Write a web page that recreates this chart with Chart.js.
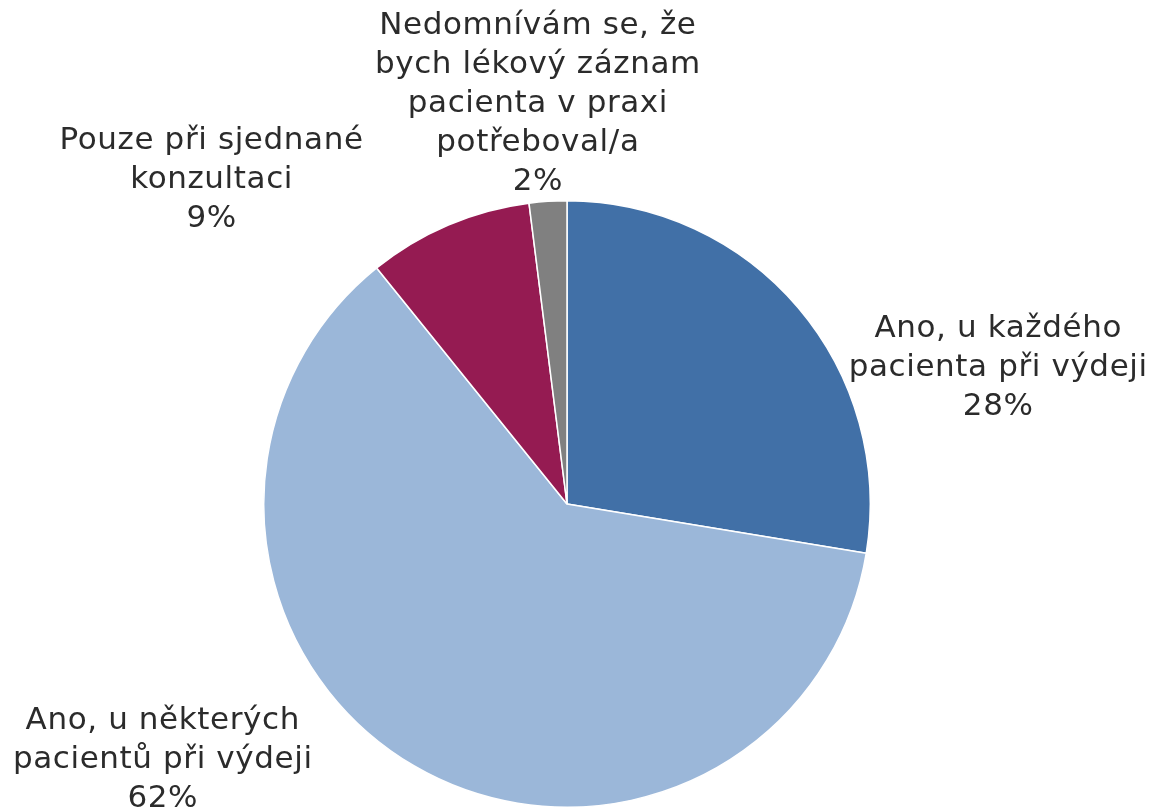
<!DOCTYPE html>
<html>
<head>
<meta charset="utf-8">
<script src="https://cdn.jsdelivr.net/npm/chart.js@4"></script>
<style>
  html, body { margin: 0; padding: 0; background: #fff; }
  #wrap { width: 1152px; height: 808px; }
</style>
</head>
<body>
<div id="wrap"><canvas id="pieChart" width="1152" height="808"></canvas></div>
<script>
// Data
const categories = [
    'Ano, u každého\npacienta při výdeji',
    'Ano, u některých\npacientů při výdeji',
    'Pouze při sjednané\nkonzultaci',
    'Nedomnívám se, že\nbych lékový záznam\npacienta v praxi\npotřeboval/a'
];
const shares = [27.6, 61.6, 8.8, 2.0];
const sliceColors = ['#4170A7', '#9BB7D9', '#951B52', '#808080'];

// Where each label block sits, in units of the pie radius from the centre
const labelSpots = [[1.422, -0.449], [-1.333, 0.845], [-1.172, -1.069], [-0.096, -1.320]];

const outsideLabels = {
    id: 'outsideLabels',
    afterDatasetsDraw(chart) {
        const ctx = chart.ctx;
        const arcs = chart.getDatasetMeta(0).data;
        const total = shares.reduce((a, b) => a + b, 0);
        ctx.save();
        ctx.font = "normal 31px 'DejaVu Sans', Verdana, sans-serif";
        ctx.letterSpacing = '0.6px';
        ctx.fillStyle = '#2b2b2b';
        ctx.textAlign = 'center';
        ctx.textBaseline = 'middle';
        const lineH = 39;
        arcs.forEach(function(arc, i) {
            const lines = categories[i].split('\n');
            lines.push(Math.round(shares[i] / total * 100) + '%');
            const cx = arc.x + labelSpots[i][0] * arc.outerRadius;
            const cy = arc.y + labelSpots[i][1] * arc.outerRadius;
            const top = cy - (lines.length - 1) * lineH / 2;
            lines.forEach(function(line, j) {
                ctx.fillText(line, cx, top + j * lineH);
            });
        });
        ctx.restore();
    }
};

new Chart(document.getElementById('pieChart'), {
    type: 'pie',
    data: {
        labels: categories,
        datasets: [{
            data: shares,
            backgroundColor: sliceColors,
            borderColor: '#ffffff',
            borderWidth: 1.5
        }]
    },
    options: {
        responsive: false,
        animation: false,
        layout: {
            padding: { top: 200, bottom: 0, left: 263, right: 281 }
        },
        plugins: {
            legend: { display: false },
            tooltip: { enabled: false }
        }
    },
    plugins: [outsideLabels]
});
</script>
</body>
</html>
